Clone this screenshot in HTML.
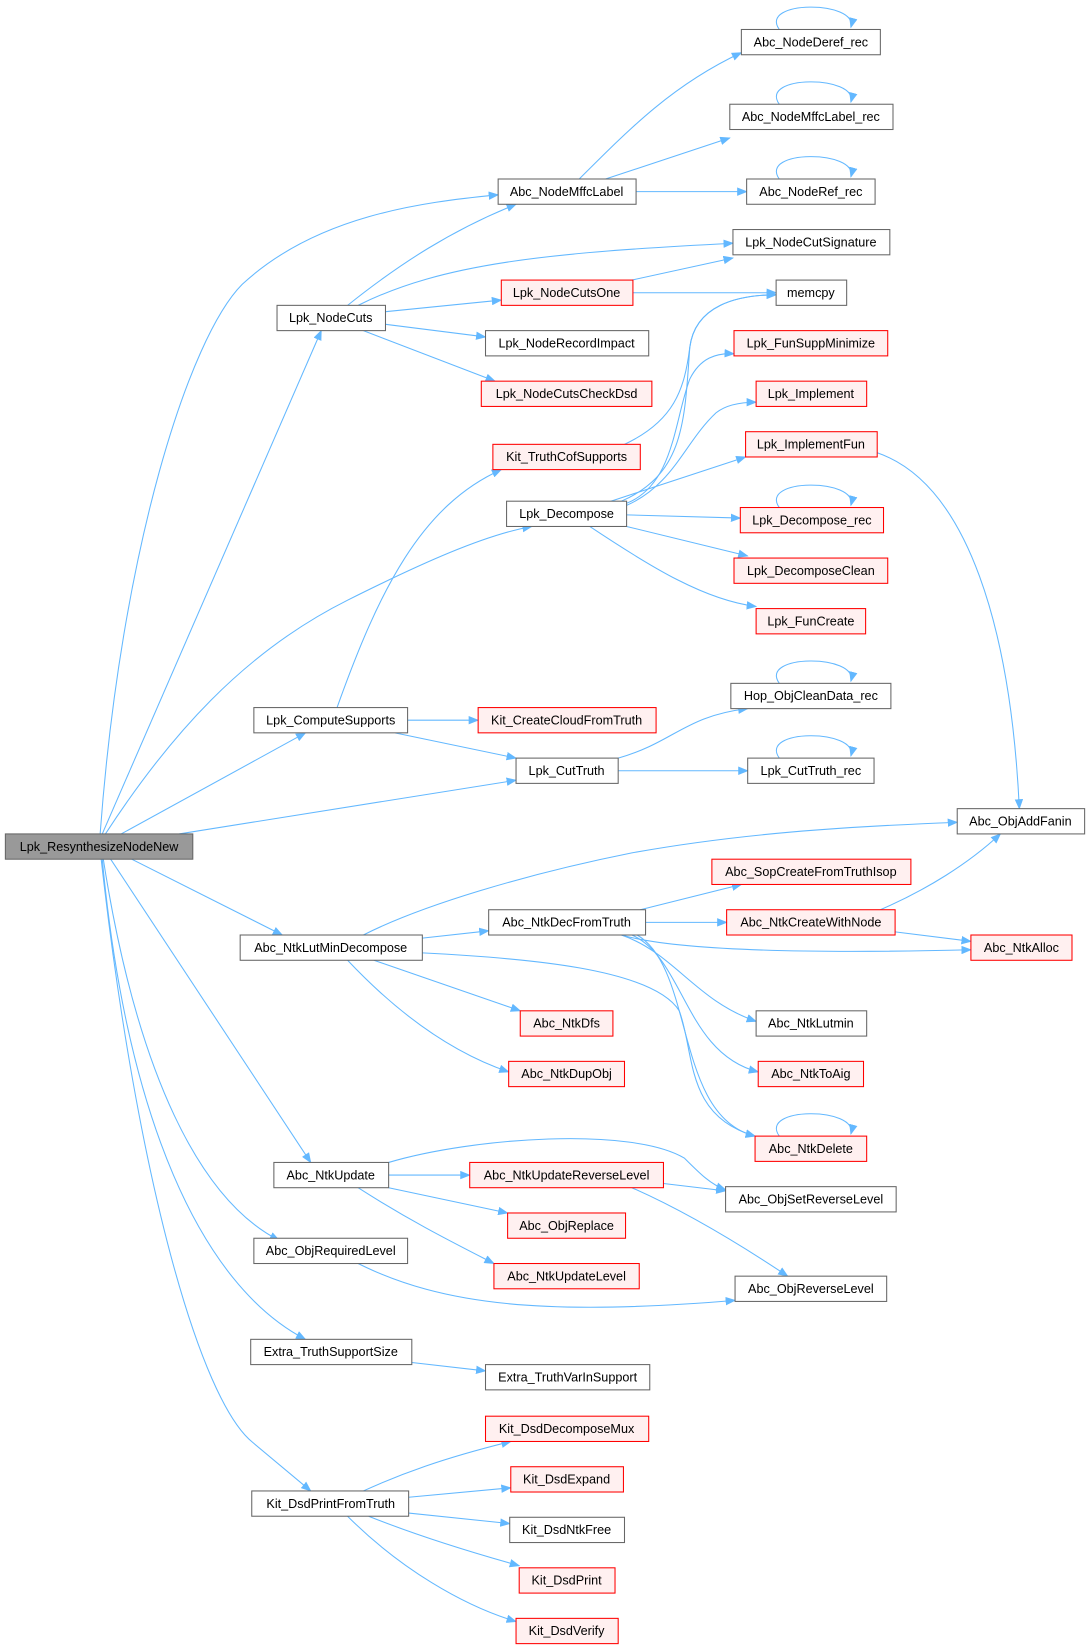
<!DOCTYPE html>
<html><head><meta charset="utf-8"><style>
html,body{margin:0;padding:0;background:#fff;}
svg{display:block;}
text{font-family:"Liberation Sans",Arial,sans-serif;font-size:12px;fill:#000;}
.n{fill:#fff;stroke:#666;stroke-width:1;}
.r{fill:#fff0f0;stroke:#f00;stroke-width:1;}
.e{fill:none;stroke:#63b8ff;stroke-width:1;marker-end:url(#a);}
</style></head><body>
<svg width="1090" height="1651" viewBox="0 0 1035 1568" xmlns="http://www.w3.org/2000/svg">
<defs><marker id="a" markerWidth="10" markerHeight="8" refX="9" refY="4" orient="auto" markerUnits="userSpaceOnUse"><path d="M0,0 L10,4 L0,8 z" fill="#63b8ff"/></marker></defs>
<g>
<path class="e" d="M95,792 C115,520 180,320 230,270 C300,205 400,192 473,185"/>
<path class="e" d="M97,792 L305,314"/>
<path class="e" d="M100,792 C160,700 230,620 330,570 C400,535 460,508 505,500"/>
<path class="e" d="M115,792 L290,696"/>
<path class="e" d="M170,792 L490,741"/>
<path class="e" d="M125,816 L268,888"/>
<path class="e" d="M105,816 L295,1104"/>
<path class="e" d="M98,816 C130,1020 190,1140 265,1178"/>
<path class="e" d="M97,816 C120,1060 190,1220 290,1272"/>
<path class="e" d="M96,816 C130,1120 190,1330 240,1370 L295,1416"/>
<path class="e" d="M550,170 C600,120 640,80 704,50"/>
<path class="e" d="M575,170 L693,131"/>
<path class="e" d="M604,182 L709,182"/>
<path class="e" d="M330,290 C380,250 430,218 490,194"/>
<path class="e" d="M340,290 C420,250 520,240 696,231"/>
<path class="e" d="M366,296 L476,285"/>
<path class="e" d="M366,308 L461,320"/>
<path class="e" d="M345,314 L470,362"/>
<path class="e" d="M600,266 L696,245"/>
<path class="e" d="M601,278 L737,278"/>
<path class="e" d="M593,422 C640,400 650,370 655,330 C660,290 700,280 737,280"/>
<path class="e" d="M590,476 C650,450 650,400 655,330 C660,290 700,280 737,280"/>
<path class="e" d="M595,478 C640,460 640,400 655,360 C665,340 680,335 697,336"/>
<path class="e" d="M595,480 C640,460 650,420 680,392 C690,384 705,382 718,382"/>
<path class="e" d="M580,476 L708,434"/>
<path class="e" d="M595,489 L703,492"/>
<path class="e" d="M595,500 L710,528"/>
<path class="e" d="M560,500 C620,540 670,570 718,576"/>
<path class="e" d="M320,672 C360,560 400,480 476,446"/>
<path class="e" d="M387,684 L454,684"/>
<path class="e" d="M375,696 L490,720"/>
<path class="e" d="M587,720 C640,705 650,680 710,673"/>
<path class="e" d="M587,732 L710,732"/>
<path class="e" d="M833,430 C920,460 960,600 968,768"/>
<path class="e" d="M345,888 C400,860 500,830 600,810 C700,792 800,785 909,781"/>
<path class="e" d="M401,891 L464,884"/>
<path class="e" d="M401,905 C500,910 620,920 645,960 C660,1000 650,1060 717,1079"/>
<path class="e" d="M355,912 L494,960"/>
<path class="e" d="M330,912 C380,965 430,1000 483,1018"/>
<path class="e" d="M608,864 L704,840"/>
<path class="e" d="M613,876 L690,876"/>
<path class="e" d="M590,888 C650,905 800,905 922,902"/>
<path class="e" d="M590,888 C640,905 660,950 718,970"/>
<path class="e" d="M600,888 C650,910 650,1000 720,1018"/>
<path class="e" d="M605,888 C660,920 640,1060 717,1079"/>
<path class="e" d="M836,864 C880,845 920,820 950,792"/>
<path class="e" d="M850,885 L922,894"/>
<path class="e" d="M369,1104 C450,1080 600,1070 650,1100 C665,1115 675,1125 689,1130"/>
<path class="e" d="M369,1116 L446,1116"/>
<path class="e" d="M369,1128 L482,1152"/>
<path class="e" d="M340,1128 C390,1160 430,1180 469,1200"/>
<path class="e" d="M630,1124 L689,1131"/>
<path class="e" d="M600,1128 C650,1150 700,1180 748,1212"/>
<path class="e" d="M340,1200 C420,1240 520,1250 698,1235"/>
<path class="e" d="M391,1294 L461,1302"/>
<path class="e" d="M345,1416 C380,1400 420,1385 485,1369"/>
<path class="e" d="M388,1422 L485,1413"/>
<path class="e" d="M388,1437 L484,1447"/>
<path class="e" d="M350,1440 C400,1460 450,1475 493,1487"/>
<path class="e" d="M330,1440 C380,1490 440,1525 490,1540"/>
<path class="e" d="M740,28 C720,0 815,0 808,26"/>
<path class="e" d="M740,99 C720,71 815,71 808,97"/>
<path class="e" d="M740,170 C720,142 815,142 808,168"/>
<path class="e" d="M740,482 C720,454 815,454 808,480"/>
<path class="e" d="M740,649 C720,621 815,621 808,647"/>
<path class="e" d="M740,720 C720,692 815,692 808,718"/>
<path class="e" d="M740,1079 C720,1051 815,1051 808,1077"/>
</g>
<g>
<rect x="5" y="792" width="178" height="24" fill="#999" stroke="#666"/><text x="94" y="808" text-anchor="middle">Lpk_ResynthesizeNodeNew</text>
<rect class="n" x="704" y="28" width="132" height="24"/><text x="770" y="44" text-anchor="middle">Abc_NodeDeref_rec</text>
<rect class="n" x="693" y="99" width="155" height="24"/><text x="770" y="115" text-anchor="middle">Abc_NodeMffcLabel_rec</text>
<rect class="n" x="473" y="170" width="131" height="24"/><text x="538" y="186" text-anchor="middle">Abc_NodeMffcLabel</text>
<rect class="n" x="709" y="170" width="122" height="24"/><text x="770" y="186" text-anchor="middle">Abc_NodeRef_rec</text>
<rect class="n" x="696" y="218" width="149" height="24"/><text x="770" y="234" text-anchor="middle">Lpk_NodeCutSignature</text>
<rect class="n" x="263" y="290" width="103" height="24"/><text x="314" y="306" text-anchor="middle">Lpk_NodeCuts</text>
<rect class="r" x="476" y="266" width="125" height="24"/><text x="538" y="282" text-anchor="middle">Lpk_NodeCutsOne</text>
<rect class="n" x="737" y="266" width="67" height="24"/><text x="770" y="282" text-anchor="middle">memcpy</text>
<rect class="n" x="461" y="314" width="155" height="24"/><text x="538" y="330" text-anchor="middle">Lpk_NodeRecordImpact</text>
<rect class="r" x="457" y="362" width="162" height="24"/><text x="538" y="378" text-anchor="middle">Lpk_NodeCutsCheckDsd</text>
<rect class="r" x="697" y="314" width="146" height="24"/><text x="770" y="330" text-anchor="middle">Lpk_FunSuppMinimize</text>
<rect class="r" x="718" y="362" width="105" height="24"/><text x="770" y="378" text-anchor="middle">Lpk_Implement</text>
<rect class="r" x="468" y="422" width="140" height="24"/><text x="538" y="438" text-anchor="middle">Kit_TruthCofSupports</text>
<rect class="r" x="708" y="410" width="125" height="24"/><text x="770" y="426" text-anchor="middle">Lpk_ImplementFun</text>
<rect class="n" x="481" y="476" width="114" height="24"/><text x="538" y="492" text-anchor="middle">Lpk_Decompose</text>
<rect class="r" x="703" y="482" width="136" height="24"/><text x="771" y="498" text-anchor="middle">Lpk_Decompose_rec</text>
<rect class="r" x="697" y="530" width="146" height="24"/><text x="770" y="546" text-anchor="middle">Lpk_DecomposeClean</text>
<rect class="r" x="718" y="578" width="104" height="24"/><text x="770" y="594" text-anchor="middle">Lpk_FunCreate</text>
<rect class="n" x="694" y="649" width="152" height="24"/><text x="770" y="665" text-anchor="middle">Hop_ObjCleanData_rec</text>
<rect class="n" x="241" y="672" width="146" height="24"/><text x="314" y="688" text-anchor="middle">Lpk_ComputeSupports</text>
<rect class="r" x="454" y="672" width="169" height="24"/><text x="538" y="688" text-anchor="middle">Kit_CreateCloudFromTruth</text>
<rect class="n" x="490" y="720" width="97" height="24"/><text x="538" y="736" text-anchor="middle">Lpk_CutTruth</text>
<rect class="n" x="710" y="720" width="120" height="24"/><text x="770" y="736" text-anchor="middle">Lpk_CutTruth_rec</text>
<rect class="n" x="909" y="768" width="121" height="24"/><text x="969" y="784" text-anchor="middle">Abc_ObjAddFanin</text>
<rect class="r" x="676" y="816" width="189" height="24"/><text x="770" y="832" text-anchor="middle">Abc_SopCreateFromTruthIsop</text>
<rect class="n" x="464" y="864" width="149" height="24"/><text x="538" y="880" text-anchor="middle">Abc_NtkDecFromTruth</text>
<rect class="r" x="690" y="864" width="160" height="24"/><text x="770" y="880" text-anchor="middle">Abc_NtkCreateWithNode</text>
<rect class="n" x="228" y="888" width="173" height="24"/><text x="314" y="904" text-anchor="middle">Abc_NtkLutMinDecompose</text>
<rect class="r" x="922" y="888" width="96" height="24"/><text x="970" y="904" text-anchor="middle">Abc_NtkAlloc</text>
<rect class="r" x="494" y="960" width="88" height="24"/><text x="538" y="976" text-anchor="middle">Abc_NtkDfs</text>
<rect class="n" x="718" y="960" width="105" height="24"/><text x="770" y="976" text-anchor="middle">Abc_NtkLutmin</text>
<rect class="r" x="483" y="1008" width="110" height="24"/><text x="538" y="1024" text-anchor="middle">Abc_NtkDupObj</text>
<rect class="r" x="720" y="1008" width="100" height="24"/><text x="770" y="1024" text-anchor="middle">Abc_NtkToAig</text>
<rect class="r" x="717" y="1079" width="106" height="24"/><text x="770" y="1095" text-anchor="middle">Abc_NtkDelete</text>
<rect class="n" x="260" y="1104" width="109" height="24"/><text x="314" y="1120" text-anchor="middle">Abc_NtkUpdate</text>
<rect class="r" x="446" y="1104" width="184" height="24"/><text x="538" y="1120" text-anchor="middle">Abc_NtkUpdateReverseLevel</text>
<rect class="n" x="689" y="1127" width="162" height="24"/><text x="770" y="1143" text-anchor="middle">Abc_ObjSetReverseLevel</text>
<rect class="r" x="482" y="1152" width="112" height="24"/><text x="538" y="1168" text-anchor="middle">Abc_ObjReplace</text>
<rect class="n" x="241" y="1176" width="146" height="24"/><text x="314" y="1192" text-anchor="middle">Abc_ObjRequiredLevel</text>
<rect class="r" x="469" y="1200" width="138" height="24"/><text x="538" y="1216" text-anchor="middle">Abc_NtkUpdateLevel</text>
<rect class="n" x="698" y="1212" width="144" height="24"/><text x="770" y="1228" text-anchor="middle">Abc_ObjReverseLevel</text>
<rect class="n" x="238" y="1272" width="153" height="24"/><text x="314" y="1288" text-anchor="middle">Extra_TruthSupportSize</text>
<rect class="n" x="461" y="1296" width="156" height="24"/><text x="539" y="1312" text-anchor="middle">Extra_TruthVarInSupport</text>
<rect class="r" x="461" y="1345" width="155" height="24"/><text x="538" y="1361" text-anchor="middle">Kit_DsdDecomposeMux</text>
<rect class="r" x="485" y="1393" width="107" height="24"/><text x="538" y="1409" text-anchor="middle">Kit_DsdExpand</text>
<rect class="n" x="484" y="1441" width="109" height="24"/><text x="538" y="1457" text-anchor="middle">Kit_DsdNtkFree</text>
<rect class="n" x="239" y="1416" width="149" height="24"/><text x="314" y="1432" text-anchor="middle">Kit_DsdPrintFromTruth</text>
<rect class="r" x="493" y="1489" width="91" height="24"/><text x="538" y="1505" text-anchor="middle">Kit_DsdPrint</text>
<rect class="r" x="490" y="1537" width="97" height="24"/><text x="538" y="1553" text-anchor="middle">Kit_DsdVerify</text>
</g>
</svg>
</body></html>
